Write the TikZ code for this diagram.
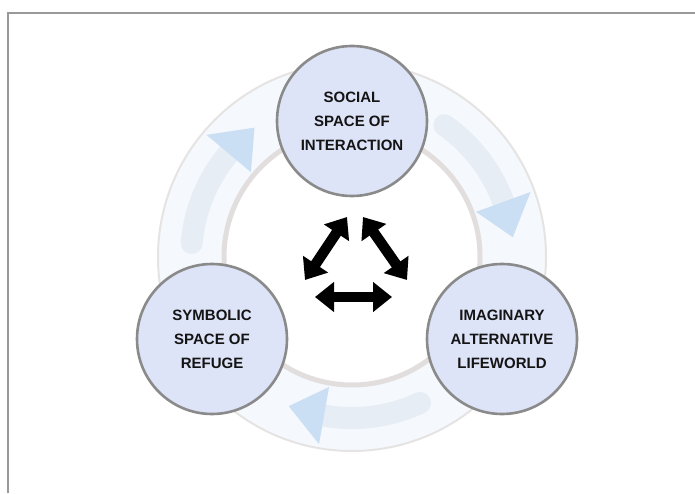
\documentclass[tikz,border=0pt]{standalone}
\usepackage{fontspec}
\setmainfont{Liberation Sans}
\usepackage{tikz}
\usetikzlibrary{arrows.meta}

\definecolor{circfill}{HTML}{DEE4F7}
\definecolor{circgray}{HTML}{8A8A8A}
\definecolor{bandfill}{HTML}{F5F8FD}
\definecolor{ringedge}{HTML}{E6E3E3}
\definecolor{ringgray}{HTML}{E2DEDE}
\definecolor{flowbody}{HTML}{E7EDF5}
\definecolor{flowhead}{HTML}{CADFF4}
\definecolor{txtdark}{HTML}{141414}
\definecolor{framegray}{HTML}{999999}

\begin{document}
\begin{tikzpicture}[x=1pt,y=1pt]
\tikzstyle{sphere} = [circle, draw=circgray, line width=2.6, fill=circfill,
    minimum size=150, inner sep=0, align=center, text=txtdark,
    font=\bfseries\fontsize{15}{24}\selectfont]
\tikzstyle{link} = [line width=10.5,
    {Triangle[length=19pt,width=29pt]}-{Triangle[length=19pt,width=29pt]}]
\useasboundingbox (0,0) rectangle (695,493);
\draw[framegray, line width=2] (8,0) -- (8,480) -- (695,480);

\coordinate (ctr) at (352,236);
% the band with its two edges
\fill[bandfill, even odd rule] (ctr) circle[radius=194] (ctr) circle[radius=128];
\draw[ringedge, line width=2] (ctr) circle[radius=194];
\draw[ringgray, line width=5] (ctr) circle[radius=128];
% flow arrows running clockwise in the band
\foreach \a in {175,55,-65}{
    \draw[flowbody, line width=22, line cap=round, shift={(ctr)}]
        (\a:161) arc[start angle=\a, end angle=\a-35, radius=161];
    \fill[flowhead, shift={(ctr)}]
        ({\a-35}:132) -- ({\a-48}:162) -- ({\a-35}:190) -- cycle;
}

\node[sphere] (social) at (352,372) {SOCIAL\\SPACE OF\\INTERACTION};
\node[sphere] (refuge) at (212,154) {SYMBOLIC\\SPACE OF\\REFUGE};
\node[sphere] (lifeworld) at (502,154) {IMAGINARY\\ALTERNATIVE\\LIFEWORLD};

% exchange between the three spaces
\coordinate (rs) at (305,213); \coordinate (sr) at (347,276);
\coordinate (sl) at (363,276); \coordinate (ls) at (407,213);
\coordinate (rl) at (315,196); \coordinate (lr) at (392,196);
\draw[link] (rs) -- (sr);
\draw[link] (sl) -- (ls);
\draw[link] (rl) -- (lr);
\end{tikzpicture}
\end{document}
